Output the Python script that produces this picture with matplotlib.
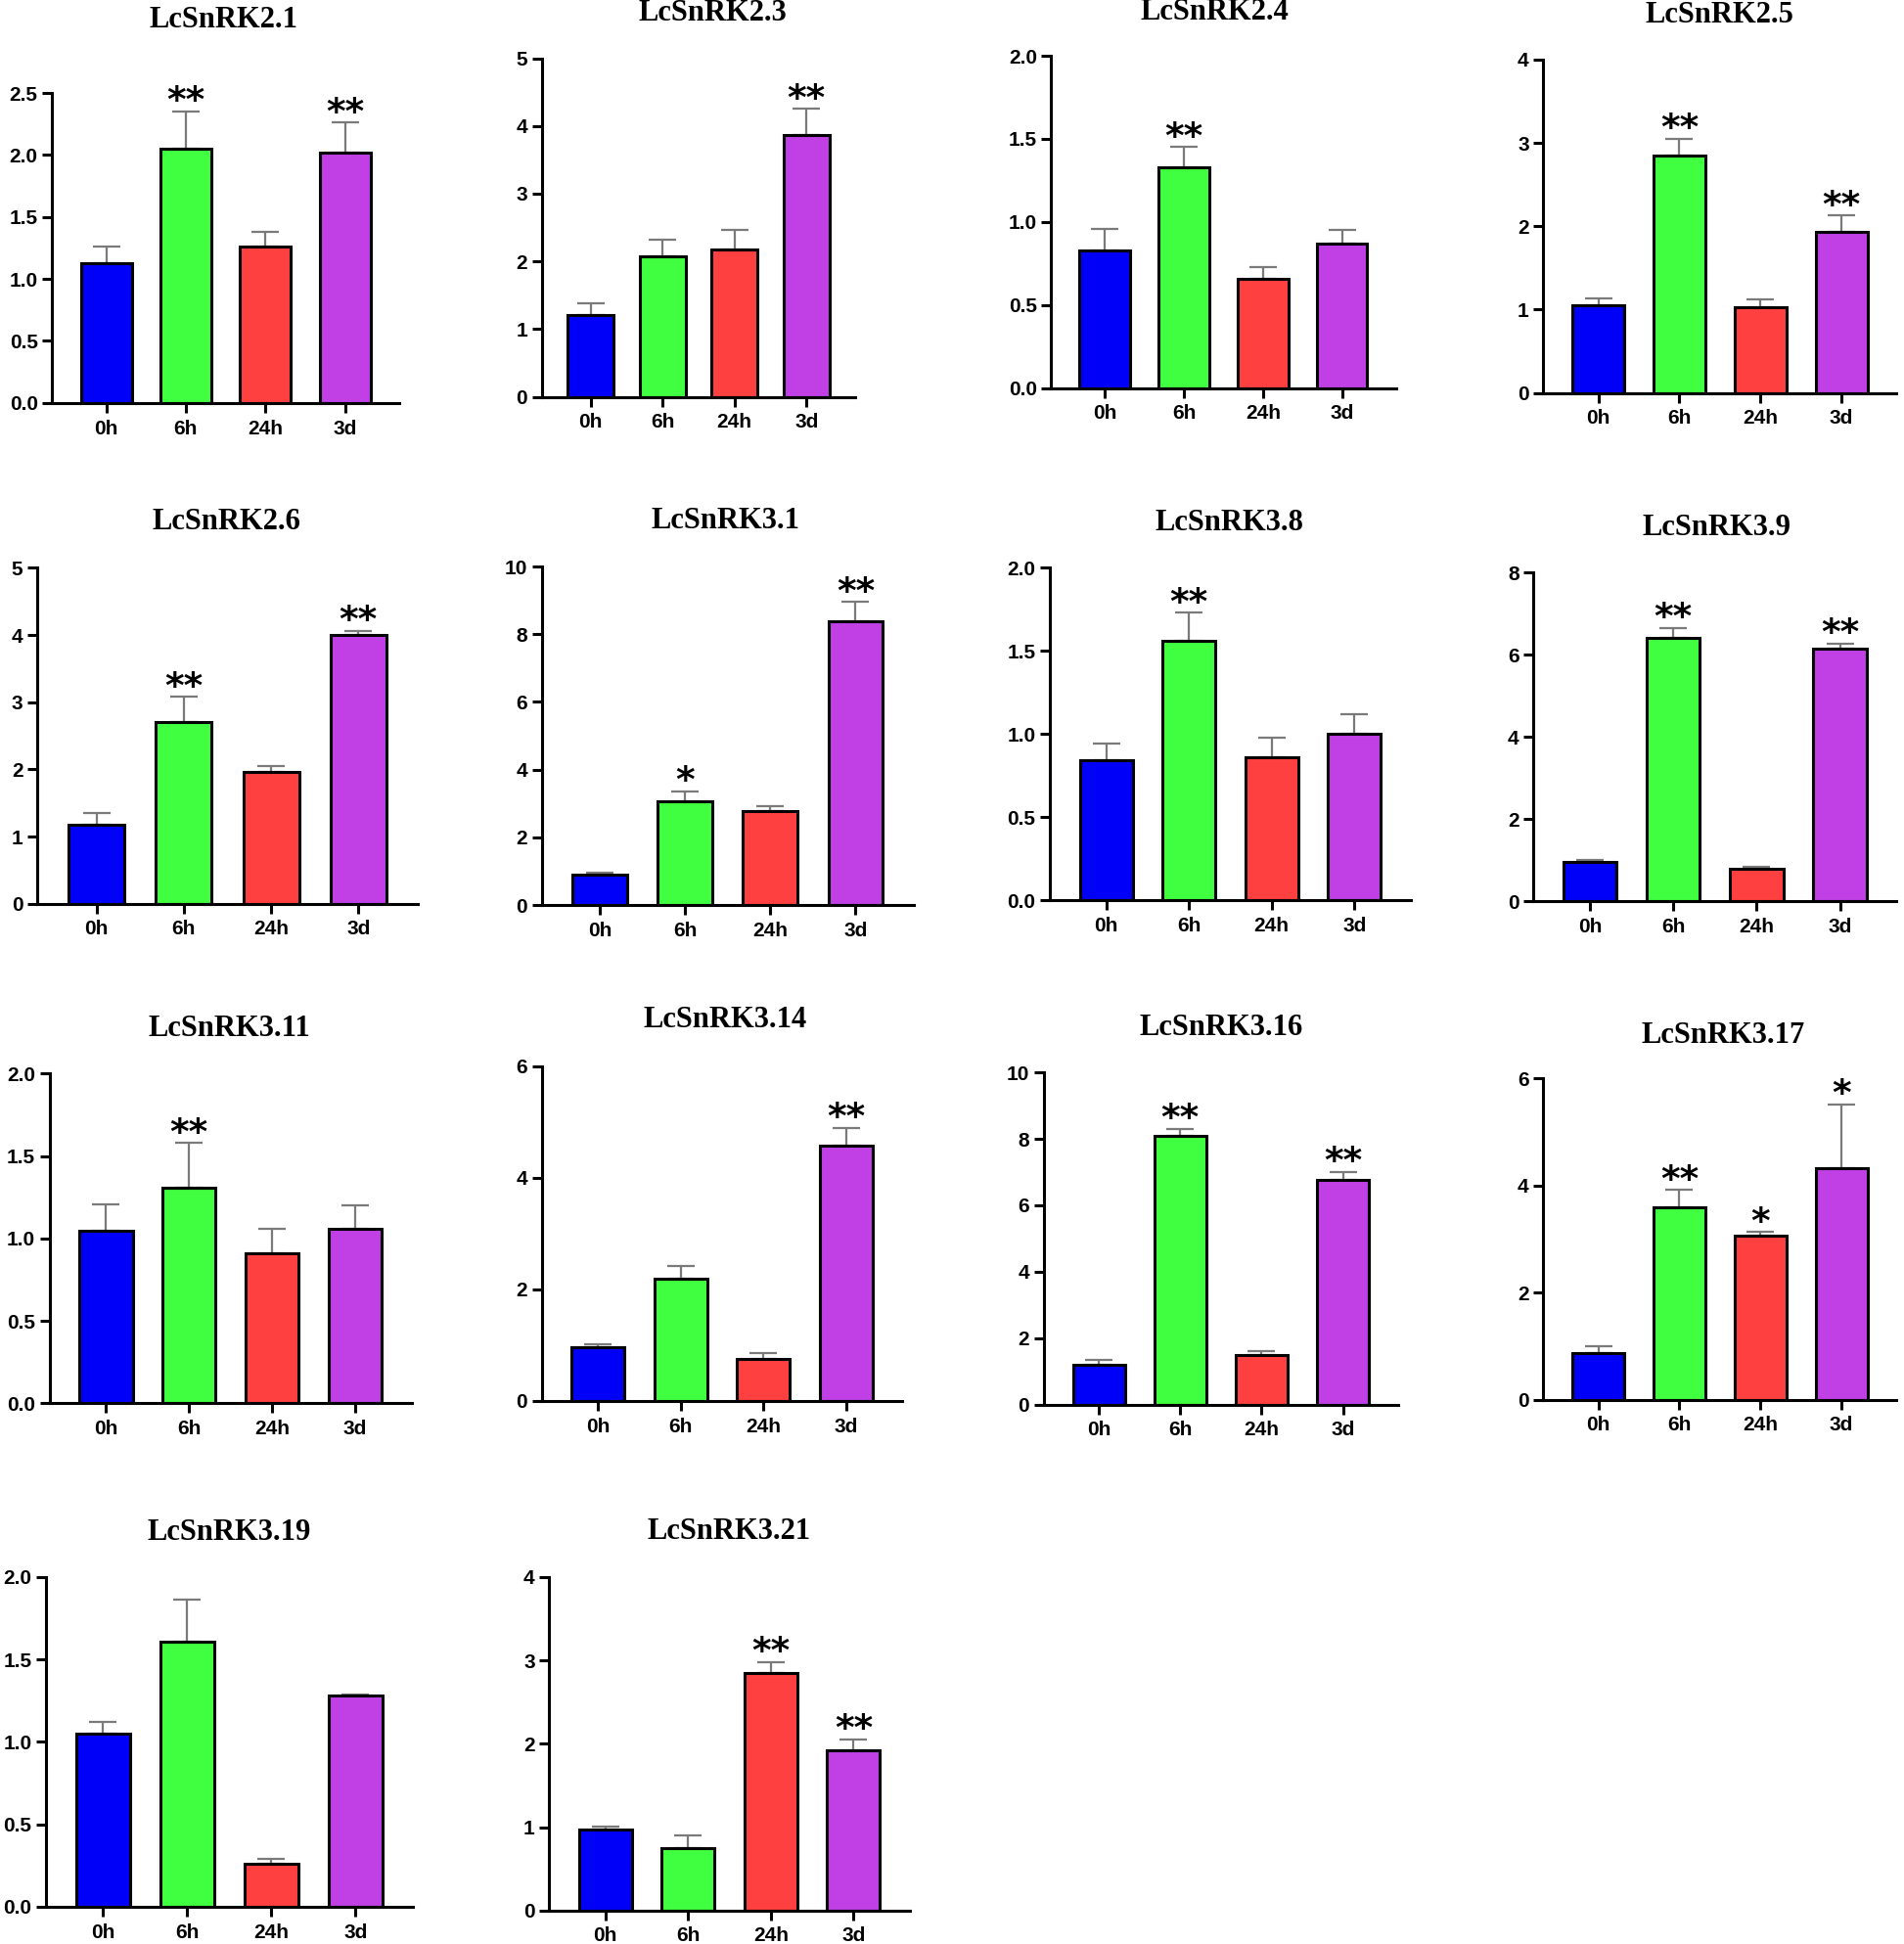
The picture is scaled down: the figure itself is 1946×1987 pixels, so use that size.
import matplotlib
matplotlib.use("Agg")
import matplotlib.pyplot as plt
from matplotlib.ticker import FormatStrFormatter, MultipleLocator

times = ['0h', '6h', '24h', '3d']
colors = ['#0000F8', '#40FF40', '#FF4040', '#C040E6']

genes = ['LcSnRK2.1', 'LcSnRK2.3', 'LcSnRK2.4', 'LcSnRK2.5',
         'LcSnRK2.6', 'LcSnRK3.1', 'LcSnRK3.8', 'LcSnRK3.9',
         'LcSnRK3.11', 'LcSnRK3.14', 'LcSnRK3.16', 'LcSnRK3.17',
         'LcSnRK3.19', 'LcSnRK3.21']

means = [
    [1.13, 2.05, 1.26, 2.02],
    [1.20, 2.08, 2.17, 3.87],
    [0.83, 1.33, 0.66, 0.87],
    [1.05, 2.85, 1.03, 1.93],
    [1.18, 2.70, 1.96, 4.00],
    [0.90, 3.08, 2.78, 8.38],
    [0.84, 1.56, 0.86, 1.00],
    [0.95, 6.42, 0.80, 6.15],
    [1.05, 1.31, 0.91, 1.06],
    [0.97, 2.20, 0.76, 4.58],
    [1.20, 8.10, 1.50, 6.78],
    [0.88, 3.60, 3.07, 4.32],
    [1.05, 1.61, 0.26, 1.28],
    [0.97, 0.75, 2.85, 1.92],
]

errs = [
    [0.13, 0.30, 0.12, 0.24],
    [0.18, 0.24, 0.30, 0.38],
    [0.13, 0.12, 0.07, 0.08],
    [0.09, 0.20, 0.09, 0.20],
    [0.17, 0.38, 0.09, 0.06],
    [0.07, 0.28, 0.13, 0.57],
    [0.10, 0.17, 0.12, 0.12],
    [0.05, 0.23, 0.03, 0.13],
    [0.16, 0.27, 0.15, 0.14],
    [0.05, 0.22, 0.09, 0.32],
    [0.15, 0.20, 0.10, 0.22],
    [0.12, 0.32, 0.06, 1.20],
    [0.07, 0.25, 0.03, 0.01],
    [0.04, 0.15, 0.13, 0.13],
]

sig = [
    ['', '**', '', '**'],
    ['', '', '', '**'],
    ['', '**', '', ''],
    ['', '**', '', '**'],
    ['', '**', '', '**'],
    ['', '*', '', '**'],
    ['', '**', '', ''],
    ['', '**', '', '**'],
    ['', '**', '', ''],
    ['', '', '', '**'],
    ['', '**', '', '**'],
    ['', '**', '*', '*'],
    ['', '', '', ''],
    ['', '', '**', '**'],
]

ymax = [2.5, 5, 2.0, 4, 5, 10, 2.0, 8, 2.0, 6, 10, 6, 2.0, 4]
ystep = [0.5, 1, 0.5, 1, 1, 2, 0.5, 2, 0.5, 2, 2, 2, 0.5, 1]

# panel boxes in reference pixels (shown at 1536x1568): left, right, top, bottom, title x, title y
W, H = 1536.0, 1568.0
boxes = [
    (42, 322, 75, 325, 180, 16),
    (437, 690, 47, 320, 575, 11),
    (848, 1126, 45, 313, 980, 10),
    (1245, 1530, 48, 317, 1387, 12),
    (30, 337, 458, 729, 183, 421),
    (437, 737, 457, 730, 585, 420),
    (847, 1138, 458, 726, 992, 422),
    (1237, 1530, 462, 727, 1385, 426),
    (40, 332, 866, 1132, 185, 830),
    (437, 728, 860, 1130, 585, 823),
    (842, 1128, 865, 1133, 985, 829),
    (1245, 1530, 870, 1129, 1390, 835),
    (37, 333, 1272, 1538, 185, 1236),
    (443, 734, 1272, 1541, 588, 1235),
]

plt.rcParams['font.family'] = ['Liberation Sans', 'DejaVu Sans']

fig = plt.figure(figsize=(19.46, 19.87), dpi=100)

for i, gene in enumerate(genes):
    l, r, t, b, tx, ty = boxes[i]
    ax = fig.add_axes([l / W, 1 - b / H, (r - l) / W, (b - t) / H])
    x = range(len(times))
    ax.errorbar(x, means[i], yerr=[[0] * 4, errs[i]], fmt='none',
                ecolor='#7a7a7a', elinewidth=1.6, capsize=10, capthick=1.6, zorder=1)
    ax.bar(x, means[i], width=0.64, color=colors, edgecolor='black',
           linewidth=2.2, zorder=2)
    for j in x:
        if sig[i][j]:
            ax.annotate(sig[i][j], xy=(j, means[i][j] + errs[i][j]),
                        xytext=(0, -6), textcoords='offset points',
                        ha='center', va='bottom', fontsize=27,
                        fontweight='bold', family='DejaVu Sans')
    ax.set_xlim(-0.68, 3.68)
    ax.set_ylim(0, ymax[i])
    ax.yaxis.set_major_locator(MultipleLocator(ystep[i]))
    if ystep[i] < 1:
        ax.yaxis.set_major_formatter(FormatStrFormatter('%.1f'))
    else:
        ax.yaxis.set_major_formatter(FormatStrFormatter('%d'))
    ax.set_xticks(list(x))
    ax.set_xticklabels(times)
    for s in ['top', 'right']:
        ax.spines[s].set_visible(False)
    for s in ['left', 'bottom']:
        ax.spines[s].set_linewidth(2.2)
    ax.tick_params(axis='both', width=2.2, length=7, labelsize=15)
    ax.tick_params(axis='x', pad=5)
    for lab in ax.get_xticklabels() + ax.get_yticklabels():
        lab.set_fontweight('bold')
    fig.text(tx / W, 1 - ty / H, gene, ha='center', va='center',
             fontsize=22, fontweight='bold', family='Liberation Serif')

fig.savefig('out.png', dpi=100)
